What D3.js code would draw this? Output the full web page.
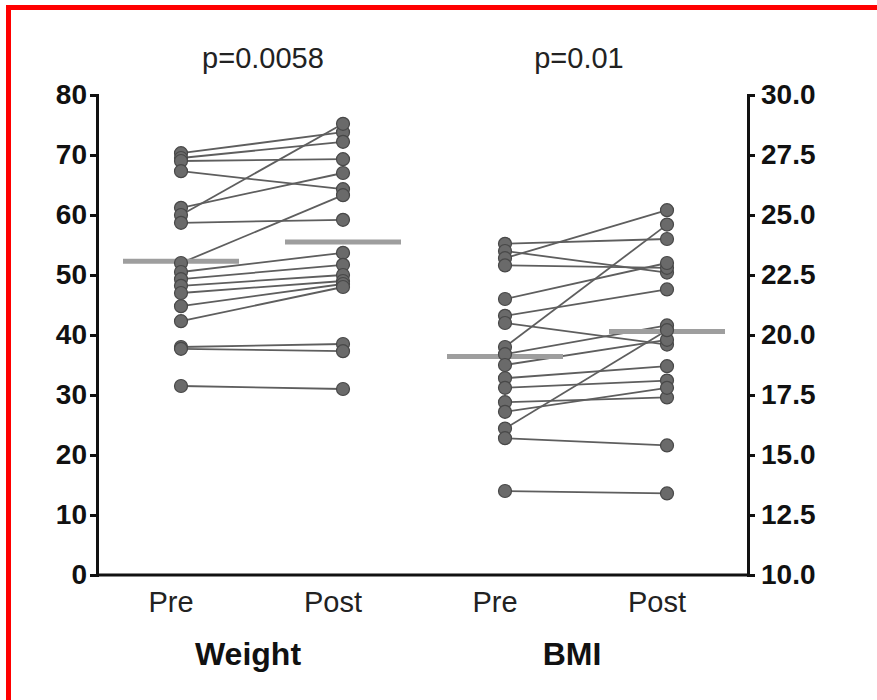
<!DOCTYPE html>
<html>
<head>
<meta charset="utf-8">
<script src="https://cdn.jsdelivr.net/npm/d3@7"></script>
<style>
  body { margin: 0; background: #fff; }
  svg { display: block; font-family: "Liberation Sans", Arial, sans-serif; }
</style>
</head>
<body>
<div id="chart"></div>
<script>
// paired pre/post values, one entry per subject
var weightPre  = [70.3, 69.5, 69.0, 67.3, 61.2, 60.0, 58.7, 52.0, 50.5, 49.3, 48.2, 47.0, 44.8, 42.3, 38.0, 37.7, 31.5];
var weightPost = [73.8, 72.2, 69.3, 64.3, 67.0, 75.2, 59.2, 63.3, 53.7, 51.7, 50.0, 49.0, 48.5, 48.0, 38.5, 37.3, 31.0];
var bmiPre  = [23.8, 23.5, 23.2, 22.9, 21.5, 20.8, 20.5, 19.5, 19.2, 18.75, 18.2, 17.8, 17.2, 16.8, 16.1, 15.7, 13.5];
var bmiPost = [24.0, 22.6, 25.2, 22.8, 23.0, 21.9, 19.6, 24.6, 20.4, 19.8, 18.7, 18.1, 17.4, 17.8, 20.2, 15.4, 13.4];

// group means (horizontal bars)
var weightMeans = [52.3, 55.5];
var bmiMeans = [19.1, 20.15];

var groups = ["wPre", "wPost", "bPre", "bPost"];
var groupLabels = ["Pre", "Post", "Pre", "Post"];
var measures = ["Weight", "BMI"];
var pValues = ["p=0.0058", "p=0.01"];
var weightTicks = [0, 10, 20, 30, 40, 50, 60, 70, 80];
var bmiTicks = [10, 12.5, 15, 17.5, 20, 22.5, 25, 27.5, 30];

var width = 877, height = 700;
var axLeft = 97, axRight = 748, axTop = 95, axBottom = 575;

var svg = d3.select("#chart").append("svg")
	.attr("width", width)
	.attr("height", height);

// red frame
svg.append("path")
	.attr("d", "M8.5,700V7.5H877")
	.attr("fill", "none")
	.attr("stroke", "#ff0000")
	.attr("stroke-width", 5);

var x = d3.scalePoint().domain(groups).range([181, 667]);
var yW = d3.scaleLinear().domain([0, 80]).range([axBottom, axTop]);
var yB = d3.scaleLinear().domain([10, 30]).range([axBottom, axTop]);

var panels = [
	{pre: weightPre, post: weightPost, means: weightMeans, y: yW, keys: ["wPre", "wPost"]},
	{pre: bmiPre, post: bmiPost, means: bmiMeans, y: yB, keys: ["bPre", "bPost"]}
];

panels.forEach(function(p) {
	var pairs = p.pre.map(function(v, i) { return [v, p.post[i]]; });
	var g = svg.append("g");

	g.selectAll("line.pair")
		.data(pairs)
		.enter().append("line")
		.attr("class", "pair")
		.attr("x1", x(p.keys[0]))
		.attr("x2", x(p.keys[1]))
		.attr("y1", function(d) { return p.y(d[0]); })
		.attr("y2", function(d) { return p.y(d[1]); })
		.attr("stroke", "#5e5e5e")
		.attr("stroke-width", 1.8);

	// mean bars
	g.selectAll("line.mean")
		.data(p.means)
		.enter().append("line")
		.attr("class", "mean")
		.attr("x1", function(d, i) { return x(p.keys[i]) - 58; })
		.attr("x2", function(d, i) { return x(p.keys[i]) + 58; })
		.attr("y1", function(d) { return p.y(d); })
		.attr("y2", function(d) { return p.y(d); })
		.attr("stroke", "#9e9e9e")
		.attr("stroke-width", 5);

	var dots = [];
	pairs.forEach(function(d) {
		dots.push([p.keys[0], d[0]]);
		dots.push([p.keys[1], d[1]]);
	});
	g.selectAll("circle")
		.data(dots)
		.enter().append("circle")
		.attr("cx", function(d) { return x(d[0]); })
		.attr("cy", function(d) { return p.y(d[1]); })
		.attr("r", 6.5)
		.attr("fill", "#6a6a6a")
		.attr("stroke", "#484848")
		.attr("stroke-width", 1.2);
});

// axes
var axL = svg.append("g")
	.attr("transform", "translate(" + axLeft + ",0)")
	.call(d3.axisLeft(yW).tickValues(weightTicks).tickSize(7).tickPadding(3));
var axR = svg.append("g")
	.attr("transform", "translate(" + axRight + ",0)")
	.call(d3.axisRight(yB).tickValues(bmiTicks).tickFormat(d3.format(".1f")).tickSize(7).tickPadding(6));

[axL, axR].forEach(function(a) {
	a.selectAll("path, line").attr("stroke", "#111").attr("stroke-width", 3);
	a.selectAll("text")
		.attr("fill", "#111")
		.style("font-size", "28px")
		.style("font-weight", "bold")
		.style("font-family", "'Liberation Sans', Arial, sans-serif");
});

svg.append("line")
	.attr("x1", axLeft).attr("x2", axRight)
	.attr("y1", axBottom).attr("y2", axBottom)
	.attr("stroke", "#111")
	.attr("stroke-width", 3);

// category labels
svg.selectAll("text.grp")
	.data(groups)
	.enter().append("text")
	.attr("class", "grp")
	.attr("x", function(d) { return x(d) - 10; })
	.attr("y", 612)
	.attr("text-anchor", "middle")
	.attr("fill", "#222")
	.style("font-size", "29px")
	.text(function(d, i) { return groupLabels[i]; });

svg.selectAll("text.measure")
	.data(measures)
	.enter().append("text")
	.attr("class", "measure")
	.attr("x", function(d, i) { return (x(groups[i * 2]) + x(groups[i * 2 + 1])) / 2 - 14; })
	.attr("y", 665)
	.attr("text-anchor", "middle")
	.attr("fill", "#111")
	.style("font-size", "32px")
	.style("font-weight", "bold")
	.text(function(d) { return d; });

svg.selectAll("text.pval")
	.data(pValues)
	.enter().append("text")
	.attr("class", "pval")
	.attr("x", function(d, i) { return (x(groups[i * 2]) + x(groups[i * 2 + 1])) / 2 + (i == 0 ? 1 : -7); })
	.attr("y", 68)
	.attr("text-anchor", "middle")
	.attr("fill", "#222")
	.style("font-size", "29px")
	.text(function(d) { return d; });
</script>
</body>
</html>
